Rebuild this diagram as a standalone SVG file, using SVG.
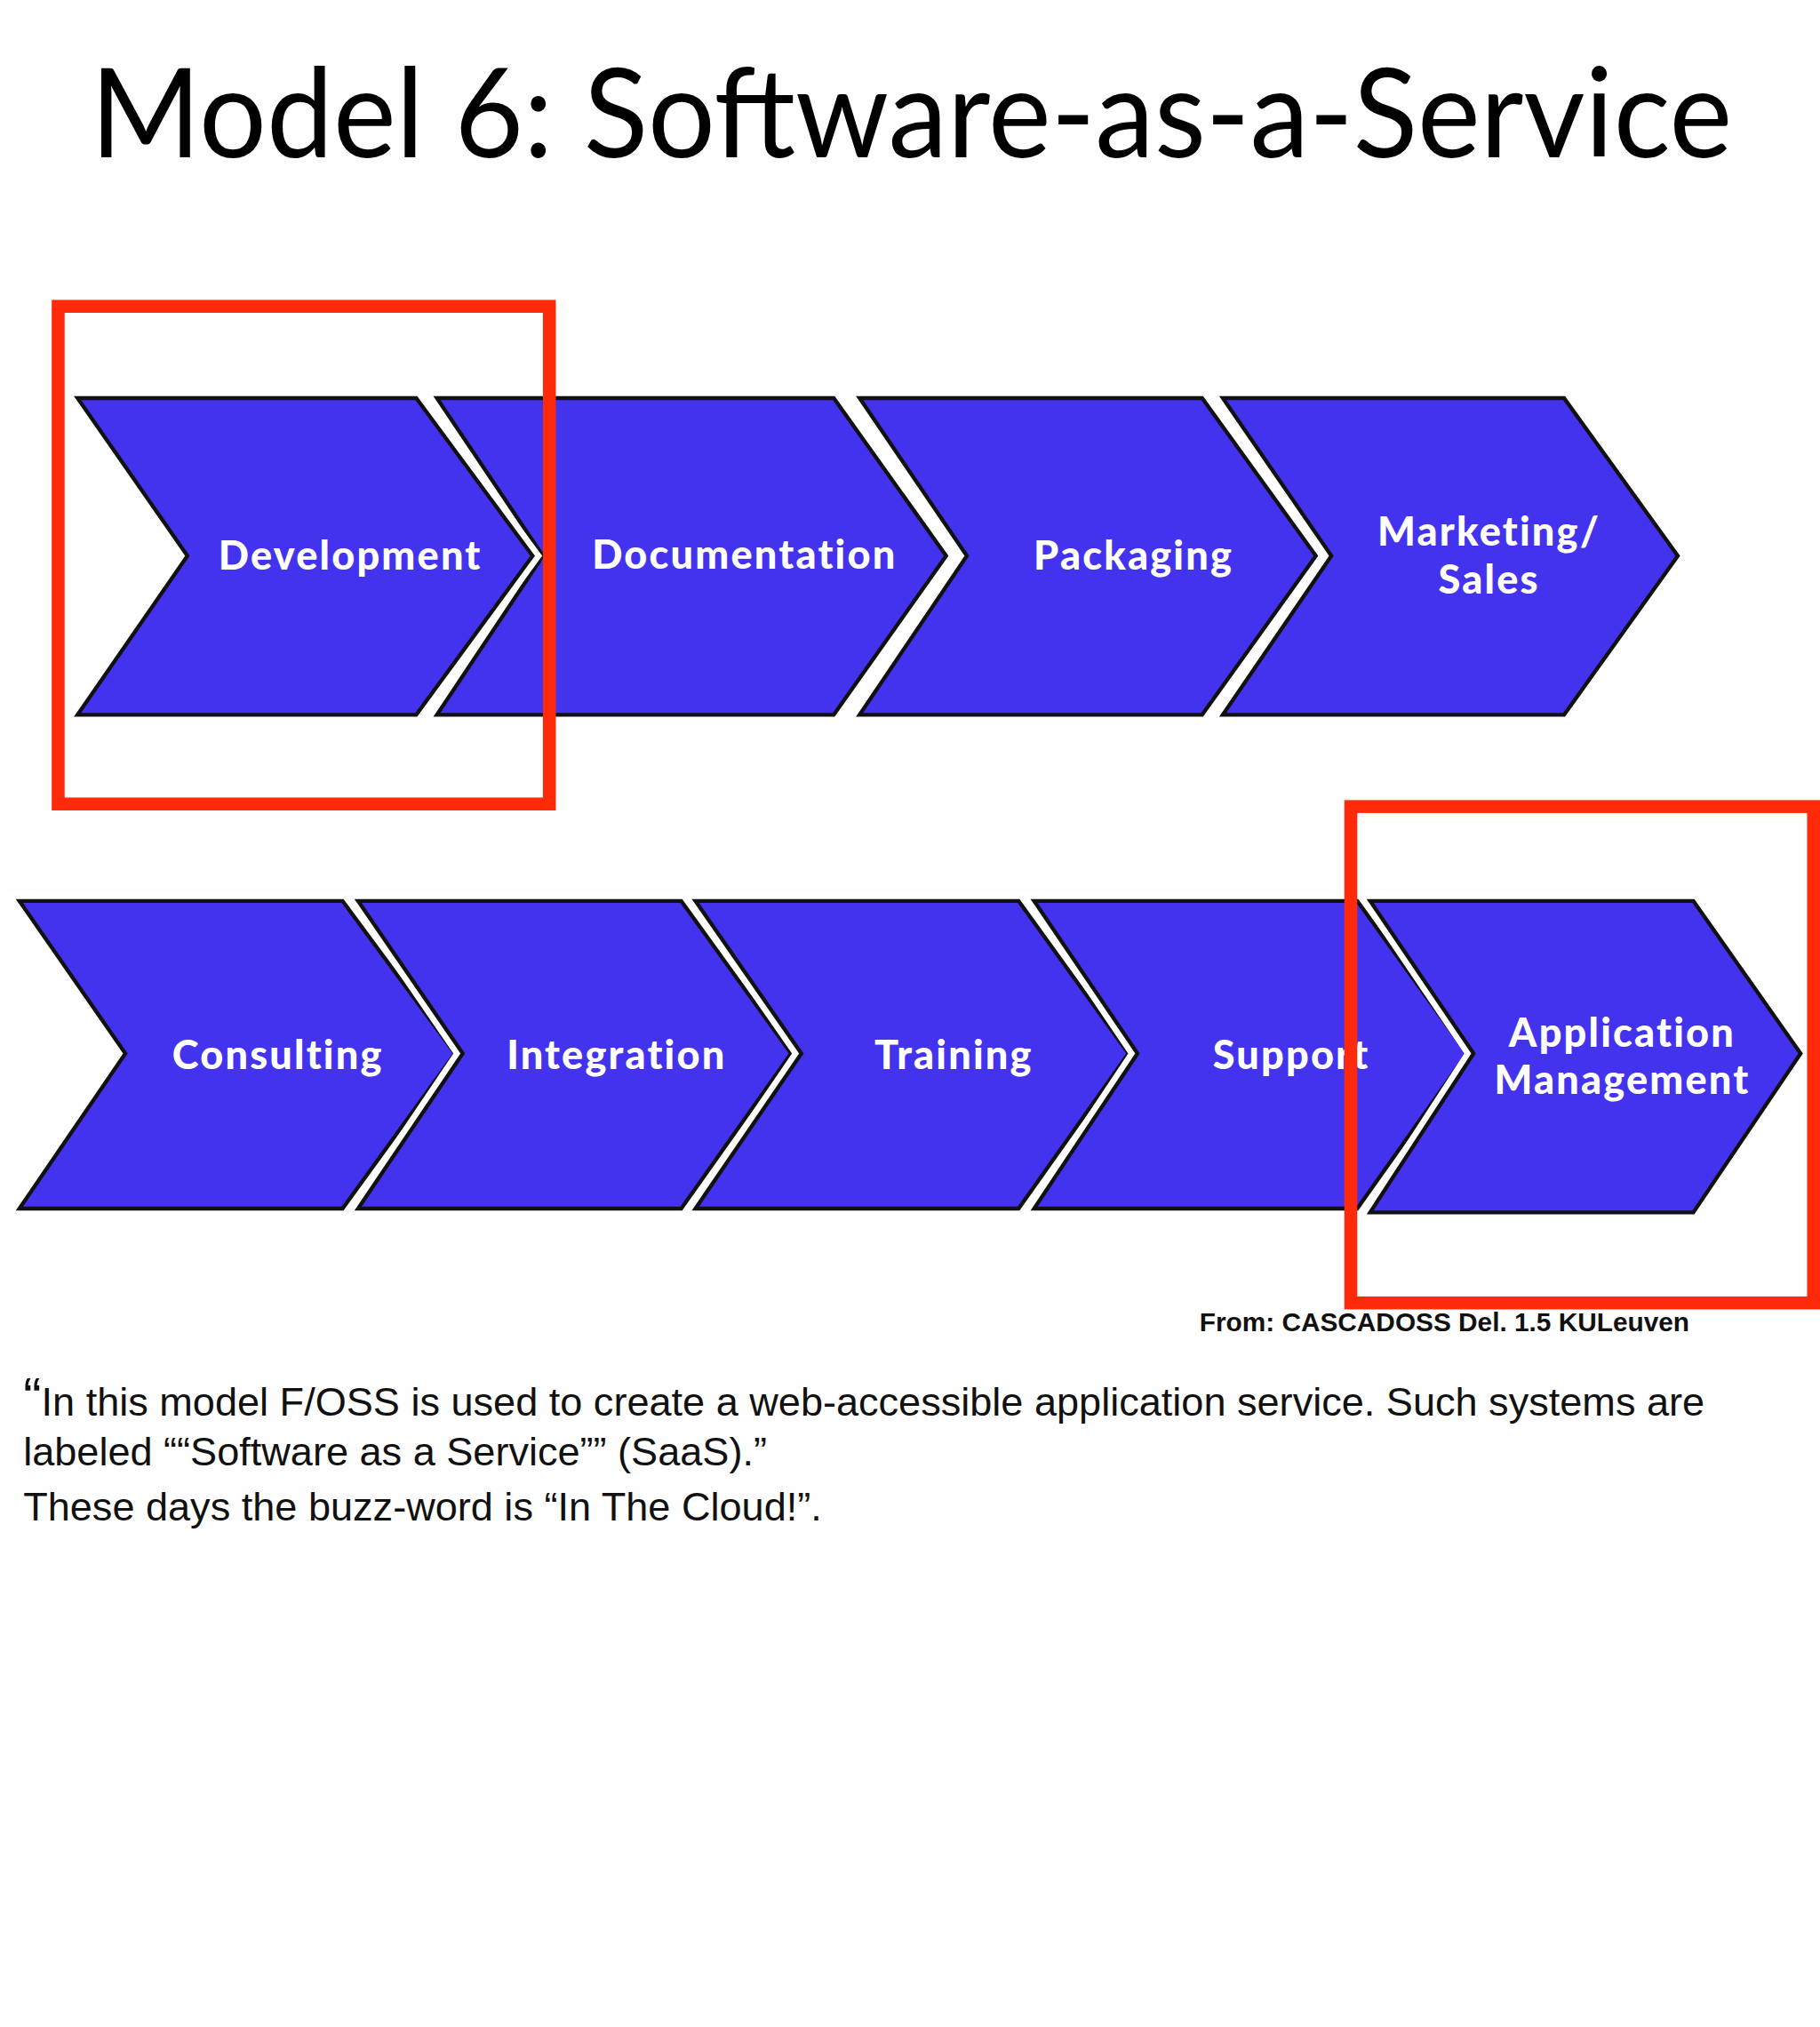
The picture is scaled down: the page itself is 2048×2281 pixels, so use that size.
<svg xmlns="http://www.w3.org/2000/svg" width="2048" height="2281" viewBox="0 0 2048 2281">
<style>
.ch{fill:#4433ee;stroke:#111;stroke-width:3;stroke-linejoin:miter}
.chw{fill:none;stroke:#fff;stroke-width:12;stroke-linejoin:miter}
.lb{font-family:Lato,"Noto Sans",sans-serif;font-weight:900;font-size:31px;fill:#fff;text-anchor:middle;letter-spacing:1.5px}
.rb{fill:none;stroke:#ff2a0a;stroke-width:10}
.q{font-family:"Liberation Sans",Arial,sans-serif;font-size:31px;fill:#111}
</style>
<rect width="2048" height="2281" fill="#fefefe"/>
<g transform="scale(1.454545)">
<text x="70" y="122" font-family="Lato,'Noto Sans',sans-serif" font-size="96" fill="#000" textLength="1270" lengthAdjust="spacingAndGlyphs">Model 6: Software-as-a-Service</text>
<g id="documentation"><polygon class="chw" points="338,308 645,308 732,430 645,553 338,553 420,430"/><polygon class="ch" points="338,308 645,308 732,430 645,553 338,553 420,430"/><text class="lb" x="576" y="440">Documentation</text></g>
<g id="development"><polygon class="chw" points="60,308 322,308 412,430 322,553 60,553 145,430"/><polygon class="ch" points="60,308 322,308 412,430 322,553 60,553 145,430"/><text class="lb" x="271" y="441">Development</text></g>
<g id="packaging"><polygon class="chw" points="665,308 930,308 1018,430 930,553 665,553 748,430"/><polygon class="ch" points="665,308 930,308 1018,430 930,553 665,553 748,430"/><text class="lb" x="877" y="441">Packaging</text></g>
<g id="marketing"><polygon class="chw" points="946,308 1210,308 1298,430 1210,553 946,553 1030,430"/><polygon class="ch" points="946,308 1210,308 1298,430 1210,553 946,553 1030,430"/><text class="lb" x="1152" y="422">Marketing/</text><text class="lb" x="1152" y="459">Sales</text></g>
<g id="consulting"><polygon class="chw" points="15,697 265,697 352,815 265,935 15,935 97,815"/><polygon class="ch" points="15,697 265,697 352,815 265,935 15,935 97,815"/><text class="lb" x="215" y="827">Consulting</text></g>
<g id="integration"><polygon class="chw" points="277,697 527,697 612,815 527,935 277,935 358,815"/><polygon class="ch" points="277,697 527,697 612,815 527,935 277,935 358,815"/><text class="lb" x="477" y="827">Integration</text></g>
<g id="training"><polygon class="chw" points="538,697 788,697 873,815 788,935 538,935 620,815"/><polygon class="ch" points="538,697 788,697 873,815 788,935 538,935 620,815"/><text class="lb" x="738" y="827">Training</text></g>
<g id="support"><polygon class="chw" points="800,697 1050,697 1135,815 1050,935 800,935 880,815"/><polygon class="ch" points="800,697 1050,697 1135,815 1050,935 800,935 880,815"/><text class="lb" x="999" y="827">Support</text></g>
<g id="appmgmt"><polygon class="chw" points="1060,697 1310,697 1393,815 1310,938 1060,938 1140,815"/><polygon class="ch" points="1060,697 1310,697 1393,815 1310,938 1060,938 1140,815"/><text class="lb" x="1255" y="810">Application</text><text class="lb" x="1255" y="846">Management</text></g>
<g id="highlights"><rect class="rb" x="45" y="237" width="380" height="385"/><rect class="rb" x="1045" y="624" width="358" height="384"/></g>
<text x="1307" y="1030" text-anchor="end" font-family="'Liberation Sans',Arial,sans-serif" font-weight="bold" font-size="20.5" fill="#111">From: CASCADOSS Del. 1.5 KULeuven</text>
<text class="q" x="18" y="1095"><tspan font-size="42">“</tspan>In this model F/OSS is used to create a web-accessible application service. Such systems are</text>
<text class="q" x="18" y="1134">labeled ““Software as a Service”” (SaaS).”</text>
<text class="q" x="18" y="1176">These days the buzz-word is “In The Cloud!”.</text>
</g>
</svg>
